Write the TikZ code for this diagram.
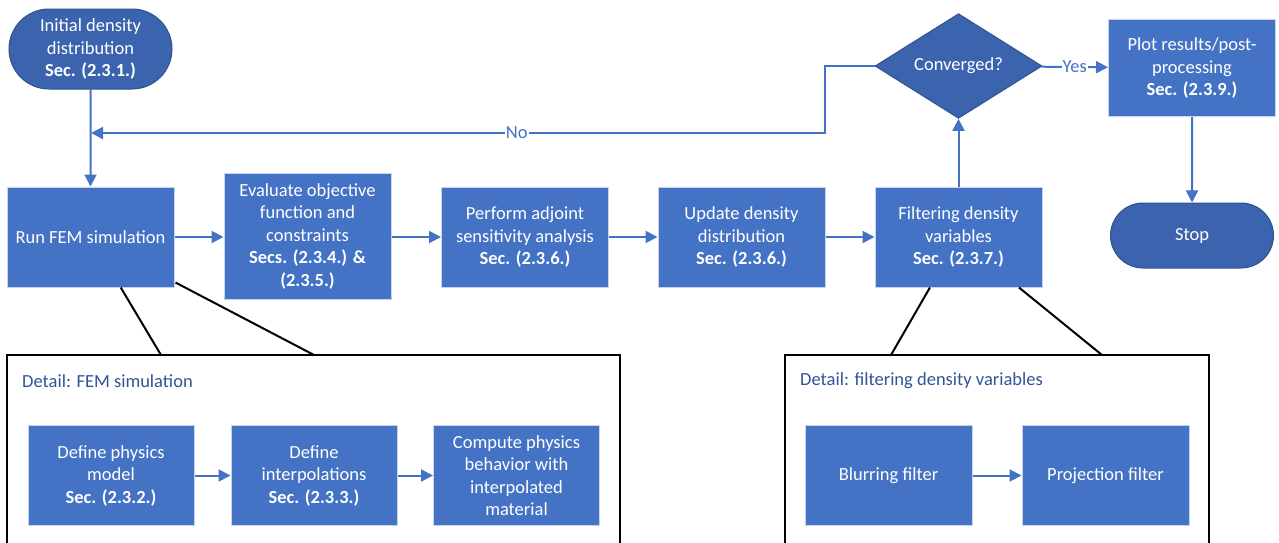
\documentclass[tikz,border=0pt]{standalone}
\usepackage{fontspec}
\setmainfont{Carlito}
\usepackage{xcolor}
\usepackage{tikz}
\usetikzlibrary{arrows.meta,shapes.geometric,shapes.misc,calc}
\definecolor{boxblue}{HTML}{4472C4}
\definecolor{termblue}{HTML}{3C64AE}
\definecolor{termedge}{HTML}{2F528F}
\definecolor{boxedge}{HTML}{C5D3EC}
\definecolor{titleblue}{HTML}{2F5597}

\begin{document}
\begin{tikzpicture}[x=1pt,y=-1pt,>={Triangle[length=12pt,width=12pt]},
  font=\fontsize{18.5}{22.5}\selectfont,
  procbox/.style={draw=boxedge,line width=1pt,fill=boxblue,text=white,
    align=center,inner sep=2pt,minimum width=167,minimum height=100},
  termbox/.style={rounded rectangle,draw=termedge,line width=1pt,
    fill=termblue,text=white,align=center,inner sep=2pt,minimum width=167},
  flow/.style={->,boxblue,line width=2pt},
  zoomline/.style={black,line width=2pt},
  detailtitle/.style={titleblue,anchor=west,inner sep=0pt}]
  \useasboundingbox (0,0) rectangle (1279,542);

  % main loop
  \node[termbox,minimum height=80] (start) at (90.5,49)
    {Initial density\\distribution\\\textbf{Sec. (2.3.1.)}};
  \node[procbox] (run) at (90.5,237) {Run FEM simulation};
  \node[procbox,minimum height=126] (eval) at (307.5,236)
    {Evaluate objective\\function and\\constraints\\\textbf{Secs. (2.3.4.) \&}\\\textbf{(2.3.5.)}};
  \node[procbox] (adjoint) at (525,237)
    {Perform adjoint\\sensitivity analysis\\\textbf{Sec. (2.3.6.)}};
  \node[procbox] (update) at (741.5,237)
    {Update density\\distribution\\\textbf{Sec. (2.3.6.)}};
  \node[procbox] (filter) at (958.5,237)
    {Filtering density\\variables\\\textbf{Sec. (2.3.7.)}};
  \node[diamond,draw=termedge,line width=1pt,fill=termblue,text=white,
    inner sep=0pt,minimum width=167,minimum height=98] (conv) at (958.5,66)
    {Converged?};
  \node[procbox,minimum height=97] (plot) at (1192,68)
    {Plot results/post-\\processing\\\textbf{Sec. (2.3.9.)}};
  \node[termbox,minimum height=65] (stop) at (1192,235.5) {Stop};

  \draw[flow] (start) -- (run);
  \draw[flow] (run) -- (run -| eval.west);
  \draw[flow] (eval.east |- adjoint) -- (adjoint);
  \draw[flow] (adjoint) -- (update);
  \draw[flow] (update) -- (filter);
  \draw[flow] (filter) -- (conv);
  \draw[flow] (conv) -- node[fill=white,inner sep=1pt,text=boxblue]{Yes} (plot);
  \draw[flow] (plot) -- (stop);
  \coordinate (noend) at (91,133);
  \draw[flow] (conv.west) -- (825,66) -- (825,133)
    -- node[pos=.42,fill=white,inner sep=1pt,text=boxblue]{No} (noend);

  % detail: FEM simulation
  \draw[zoomline] (7,545) -- (7,355) -- (620,355) -- (620,545);
  \coordinate (femA) at (161,355);
  \coordinate (femB) at (314,355);
  \draw[zoomline] ($(run.south west)!.68!(run.south east)$) -- (femA);
  \draw[zoomline] ($(run.south east)+(1,-5)$) -- (femB);
  \node[detailtitle] (femtitle) at (22,381) {Detail: FEM simulation};
  \node[procbox,minimum width=166] (physics) at (111,475.5)
    {Define physics\\model\\\textbf{Sec. (2.3.2.)}};
  \node[procbox,minimum width=166] (interp) at (314,475.5)
    {Define\\interpolations\\\textbf{Sec. (2.3.3.)}};
  \node[procbox,minimum width=166] (compute) at (516.5,475.5)
    {Compute physics\\behavior with\\interpolated\\material};
  \draw[flow] (physics) -- (interp);
  \draw[flow] (interp) -- (compute);

  % detail: filtering
  \draw[zoomline] (785,545) -- (785,355) -- (1209,355) -- (1209,545);
  \coordinate (filA) at (891,355);
  \coordinate (filB) at (1102,355);
  \draw[zoomline] ($(filter.south west)!.33!(filter.south east)$) -- (filA);
  \draw[zoomline] ($(filter.south west)!.86!(filter.south east)$) -- (filB);
  \node[detailtitle] (filtitle) at (800,381) {Detail: filtering density variables};
  \node[procbox] (blur) at (888.5,475.5) {Blurring filter};
  \node[procbox] (proj) at (1105.5,475.5) {Projection filter};
  \draw[flow] (blur) -- (proj);
\end{tikzpicture}
\end{document}
